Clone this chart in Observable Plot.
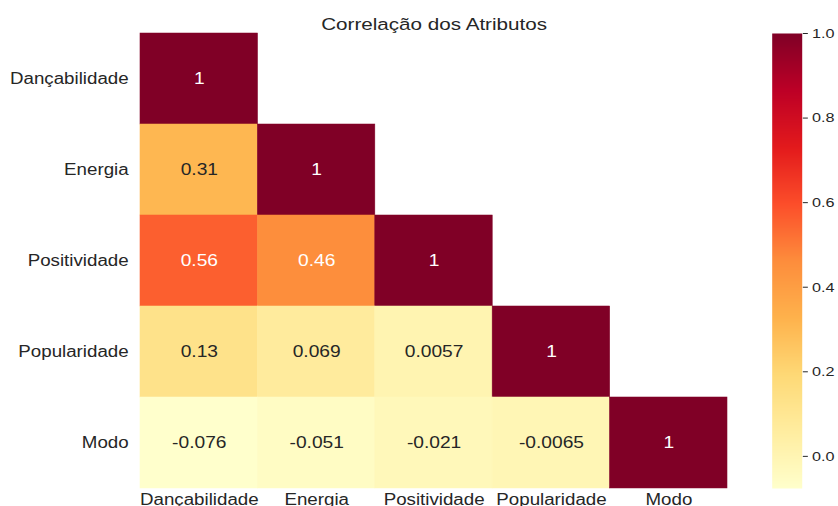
<!DOCTYPE html>
<html>
<head>
<meta charset="utf-8">
<script src="https://cdn.jsdelivr.net/npm/d3@7"></script>
<script src="https://cdn.jsdelivr.net/npm/@observablehq/plot@0.6"></script>
<style>
  html, body { margin: 0; padding: 0; background: #fff; overflow: hidden; }
  #wrap { position: relative; width: 698.33px; height: 506px; transform: scaleX(1.2); transform-origin: 0 0; }
  #main { position: absolute; left: 0; top: 0; }
  #bar { position: absolute; left: 633.33px; top: 0; }
  svg { overflow: visible; }
</style>
</head>
<body>
<div id="wrap"><div id="main"></div><div id="bar"></div></div>
<script>
const title = "Correlação dos Atributos";
const labels = ["Dançabilidade", "Energia", "Positividade", "Popularidade", "Modo"];
// lower-triangle correlation values, row by row
const row0 = [1];
const row1 = [0.31, 1];
const row2 = [0.56, 0.46, 1];
const row3 = [0.13, 0.069, 0.0057, 1];
const row4 = [-0.076, -0.051, -0.021, -0.0065, 1];
const colorbarTicks = [0.0, 0.2, 0.4, 0.6, 0.8, 1.0];
const ylOrRd = ["#ffffcc", "#ffeda0", "#fed976", "#feb24c", "#fd8d3c", "#fc4e2a", "#e31a1c", "#bd0026", "#800026"];

const rows = [row0, row1, row2, row3, row4];
const data = [];
rows.forEach((r, i) => r.forEach((v, j) => data.push({row: labels[i], col: labels[j], value: v})));

const vmin = d3.min(data, d => d.value);
const vmax = d3.max(data, d => d.value);
const interp = d3.piecewise(d3.interpolateRgb, ylOrRd);
const colorOf = v => interp((v - vmin) / (vmax - vmin));
function lum(c) {
  const col = d3.rgb(c);
  const f = x => { x /= 255; return x <= 0.03928 ? x / 12.92 : Math.pow((x + 0.055) / 1.055, 2.4); };
  return 0.2126 * f(col.r) + 0.7152 * f(col.g) + 0.0722 * f(col.b);
}
const isDark = d => lum(colorOf(d.value)) <= 0.408;
const fmt = v => String(v);

const colorScale = {type: "linear", domain: [vmin, vmax], interpolate: interp};
const font = "'Liberation Sans', Arial, sans-serif";
const ink = "#262626";

const main = Plot.plot({
  width: 633.33,
  height: 506,
  marginLeft: 116.67,
  marginRight: 27.5,
  marginTop: 33,
  marginBottom: 18,
  style: {fontFamily: font, fontSize: "15.6px", color: ink, background: "transparent"},
  x: {domain: labels, padding: 0, round: false, label: null, tickSize: 0, tickPadding: 5},
  y: {domain: labels, padding: 0, round: false, label: null, tickSize: 0, tickPadding: 10},
  color: colorScale,
  marks: [
    Plot.cell(data, {x: "col", y: "row", fill: "value", stroke: "value", strokeWidth: 0.5, inset: 0}),
    Plot.text(data.filter(d => !isDark(d)), {x: "col", y: "row", text: d => fmt(d.value), fill: ink, fontSize: 16}),
    Plot.text(data.filter(isDark), {x: "col", y: "row", text: d => fmt(d.value), fill: "white", fontSize: 16}),
    Plot.text([title], {frameAnchor: "top", lineAnchor: "bottom", dy: -3, text: d => d, fill: ink, fontSize: 17.2})
  ]
});
document.getElementById("main").appendChild(main);

const bar = Plot.plot({
  width: 65,
  height: 506,
  marginLeft: 10,
  marginRight: 30,
  marginTop: 33,
  marginBottom: 18,
  style: {fontFamily: font, fontSize: "13.5px", color: ink, background: "transparent"},
  x: {domain: [0, 1], axis: null},
  y: {domain: [vmin, vmax], axis: "right", ticks: colorbarTicks, tickFormat: d3.format(".1f"), tickSize: 4.2, tickPadding: 4, label: null},
  color: colorScale,
  marks: [
    Plot.raster({fill: (x, y) => y, x1: 0, x2: 1, y1: vmin, y2: vmax, width: 1, height: 455, imageRendering: "auto"})
  ]
});
document.getElementById("bar").appendChild(bar);
</script>
</body>
</html>
